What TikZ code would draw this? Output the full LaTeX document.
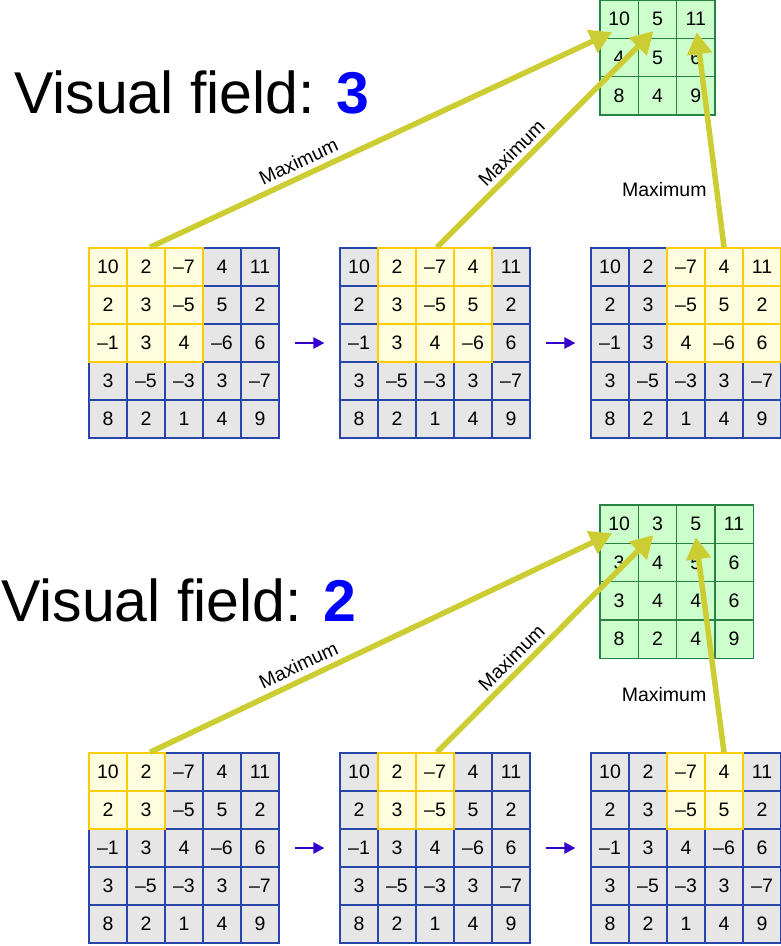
\documentclass[tikz,border=0pt]{standalone}
\usepackage{fontspec}
\setmainfont{Liberation Sans}
\usepackage{tikz}
\usetikzlibrary{arrows.meta,positioning}

\definecolor{gridblue}{RGB}{40,70,170}
\definecolor{gridgrey}{RGB}{230,230,230}
\definecolor{winyellow}{RGB}{255,204,0}
\definecolor{winfill}{RGB}{255,255,224}
\definecolor{poolgreen}{RGB}{40,130,70}
\definecolor{poolfill}{RGB}{204,255,204}
\definecolor{maxolive}{RGB}{204,204,51}
\definecolor{stepviolet}{RGB}{51,0,204}
\definecolor{fieldblue}{RGB}{0,0,255}

\begin{document}
\begin{tikzpicture}[
  x=1pt, y=-1pt,
  cell/.style={draw=gridblue, fill=gridgrey, line width=1.2pt, minimum size=38pt, inner sep=0pt, font=\fontsize{19.5}{22}\selectfont},
  win/.style={cell, draw=winyellow, fill=winfill, line width=1.5pt},
  pool/.style={cell, draw=poolgreen, fill=poolfill, minimum size=38.3pt},
  maxarrow/.style={draw=maxolive, line width=5.5pt, -{Triangle[length=22pt,width=24pt]}},
  maxlabel/.style={font=\fontsize{19.5}{22}\selectfont, text=black},
  steparrow/.style={draw=stepviolet, line width=2.5pt, -{Triangle[length=11pt,width=11pt]}, shorten <=15pt, shorten >=15pt},
  title/.style={anchor=base west, inner sep=0pt, font=\fontsize{59}{66}\selectfont}
]
\useasboundingbox (0,0) rectangle (781,946);

% input maps, the window drawn last so its border lies on top
\foreach \pass in {0,1}
\foreach \p/\gy/\wn in {T/248/3, B/753/2}
\foreach \g/\gx in {1/89, 2/340, 3/591}
\foreach \row [count=\r from 0] in {{10,2,--7,4,11},{2,3,--5,5,2},{--1,3,4,--6,6},{3,--5,--3,3,--7},{8,2,1,4,9}}
\foreach \v [count=\c from 0] in \row {
  \pgfmathtruncatemacro\inwin{and(and(\c>=\g-1,\c<=\g+\wn-2),\r<=\wn-1)}
  \ifnum\inwin=\pass
    \ifnum\pass=1 \def\sty{win}\else\def\sty{cell}\fi
    \node[\sty] (\p\g-\r-\c) at ({\gx+19+38*\c},{\gy+19+38*\r}) {\v};
  \fi
}

% pooled maps
\foreach \row [count=\r from 0] in {{10,5,11},{4,5,6},{8,4,9}}
\foreach \v [count=\c from 0] in \row
  \node[pool] (GT-\r-\c) at ({600+19.15+38.3*\c},{19.15+38.3*\r}) {\v};
\foreach \row [count=\r from 0] in {{10,3,5,11},{3,4,5,6},{3,4,4,6},{8,2,4,9}}
\foreach \v [count=\c from 0] in \row
  \node[pool] (GB-\r-\c) at ({600+19.15+38.3*\c},{505+19.15+38.3*\r}) {\v};

\node[title] (titleT) at (14,113) {Visual field: \textbf{\color{fieldblue}3}};
\node[title] (titleB) at (1,621) {Visual field: \textbf{\color{fieldblue}2}};

% window steps
\foreach \p in {T,B}
\foreach \a/\b in {1/2, 2/3}
  \draw[steparrow] (\p\a-2-4.east) -- (\p\b-2-0.west);

% maximum arrows
\foreach \p/\ya/\yb/\yc/\xc in {T/13/12/13/1, B/9/11/13/0} {
  \draw[maxarrow] ([xshift=4pt]\p1-0-1.north) -- ([xshift=-7pt,yshift=-\ya pt]G\p-0-0.center)
    node[maxlabel, sloped, above=2pt, pos=0.335] {Maximum};
  \draw[maxarrow] ([xshift=2pt]\p2-0-2.north) -- ([xshift=-4pt,yshift=-\yb pt]G\p-0-1.center)
    node[maxlabel, sloped, above=1pt, pos=0.39] {Maximum};
  \draw[maxarrow] ([xshift=0pt]\p3-0-3.north) -- ([xshift=\xc pt,yshift=-\yc pt]G\p-0-2.center)
    node[maxlabel, left=4pt, pos=0.27] {Maximum};
}
\end{tikzpicture}
\end{document}
